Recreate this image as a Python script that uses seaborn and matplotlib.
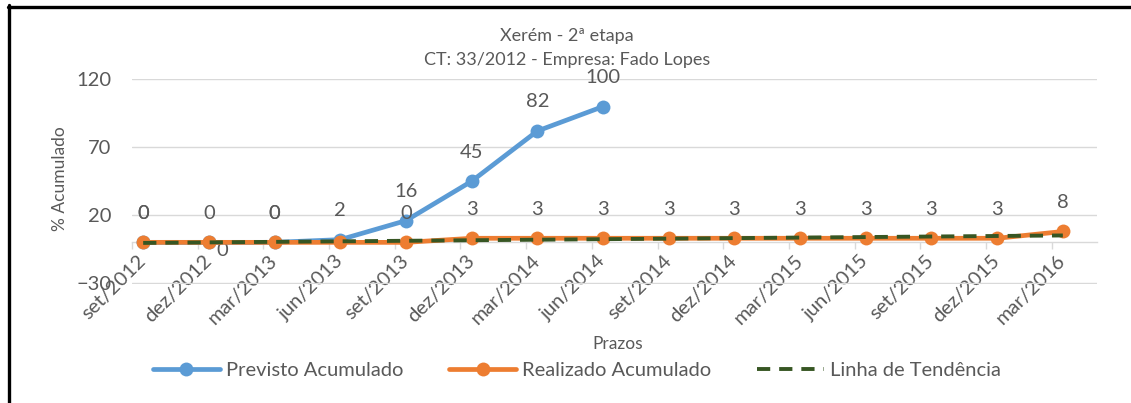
import matplotlib.pyplot as plt
import matplotlib.lines as mlines
import numpy as np
import pandas as pd
import seaborn as sns

# Dados
prazos = ['set/2012', 'dez/2012', 'mar/2013', 'jun/2013', 'set/2013',
          'dez/2013', 'mar/2014', 'jun/2014', 'set/2014', 'dez/2014',
          'mar/2015', 'jun/2015', 'set/2015', 'dez/2015', 'mar/2016']
previsto = [0, 0, 0, 2, 16, 45, 82, 100]
realizado = [0, 0, 0, 0, 0, 3, 3, 3, 3, 3, 3, 3, 3, 3, 8]
y_ticks = [-30, 20, 70, 120]

AZUL = '#5B9BD5'
LARANJA = '#ED7D31'
VERDE = '#375623'
TXT = '#595959'
GRADE = '#D9D9D9'

df_prev = pd.DataFrame({'pos': range(len(previsto)), 'valor': previsto})
df_real = pd.DataFrame({'pos': range(len(realizado)), 'valor': realizado})

sns.set_style('white')
plt.rcParams['font.family'] = ['Lato', 'DejaVu Sans']

W, H = 1131, 403
fig = plt.figure(figsize=(W / 100, H / 100), dpi=100)
ax = fig.add_axes([132 / W, 1 - 283.5 / H, 965 / W, 204.5 / H])

sns.lineplot(data=df_prev, x='pos', y='valor', ax=ax, color=AZUL, lw=3.4,
             marker='o', markersize=10, markeredgewidth=0,
             label='Previsto Acumulado', zorder=3)
sns.lineplot(data=df_real, x='pos', y='valor', ax=ax, color=LARANJA, lw=3.4,
             marker='o', markersize=10, markeredgewidth=0,
             label='Realizado Acumulado', zorder=4)
# linha de tendência linear do realizado
sns.regplot(data=df_real, x='pos', y='valor', ax=ax, scatter=False, ci=None,
            truncate=True, label='Linha de Tendência',
            line_kws=dict(color=VERDE, lw=2.8, ls=(0, (3.4, 2.3)), zorder=5))

# rótulos de dados
FS = 14.5
for i, v in enumerate(previsto):
    ax.annotate(f'{v}', (i, v), xytext=(0, 21), textcoords='offset points',
                ha='center', va='center', fontsize=FS, color=TXT)
for i, v in enumerate(realizado):
    if i == 3:
        continue
    off = (10, -6) if i == 1 else (0, 21)
    ax.annotate(f'{v}', (i, v), xytext=off, textcoords='offset points',
                ha='center', va='center', fontsize=FS, color=TXT)

ax.set_xlim(-0.17, 14.52)
ax.set_ylim(-30.3, 120.3)
ax.set_yticks(y_ticks)
ax.yaxis.grid(True, color=GRADE, lw=1)
ax.xaxis.grid(False)
for s in ['left', 'right', 'top']:
    ax.spines[s].set_visible(False)
ax.spines['bottom'].set_position(('data', 0))
ax.spines['bottom'].set_color(GRADE)
ax.spines['bottom'].set_linewidth(1)

ax.set_xticks(range(len(prazos)))
ax.set_xticklabels(prazos, rotation=45, ha='right', va='center',
                   rotation_mode='anchor')
ax.set_xticks(np.arange(len(prazos)) - 0.17, minor=True)
ax.tick_params(axis='x', which='major', length=0, pad=11, labelsize=FS,
               labelcolor=TXT)
ax.tick_params(axis='x', which='minor', length=5, width=1, color=GRADE,
               direction='out', bottom=True)
ax.tick_params(axis='y', length=0, pad=15, labelsize=FS, labelcolor=TXT)

ax.set_xlabel('Prazos', fontsize=12.5, color=TXT)
ax.set_ylabel('% Acumulado', fontsize=12.5, color=TXT)
ax.xaxis.label.set_va('center')
ax.yaxis.label.set_va('center')
ax.xaxis.set_label_coords((618 - 132) / 965, (283 - 343) / 204)
ax.yaxis.set_label_coords((60 - 132) / 965, (283 - 178) / 204)

fig.text(567 / W, 1 - 36 / H, 'Xerém - 2ª etapa', ha='center', va='center',
         fontsize=13, color=TXT)
fig.text(567 / W, 1 - 60 / H, 'CT: 33/2012 - Empresa: Fado Lopes',
         ha='center', va='center', fontsize=13, color=TXT)

handles, labels = ax.get_legend_handles_labels()
if ax.get_legend() is not None:
    ax.get_legend().remove()
fig.legend(handles, labels, loc='center', bbox_to_anchor=(577 / W, 1 - 370 / H),
           ncol=3, frameon=False, fontsize=FS, labelcolor=TXT,
           handlelength=3.3, handletextpad=0.3, columnspacing=2.3)

# moldura
fig.add_artist(mlines.Line2D([9 / W, 9 / W], [0, 1 - 5 / H],
                             transform=fig.transFigure, color='black', lw=2.4))
fig.add_artist(mlines.Line2D([7.5 / W, 1], [1 - 6.7 / H, 1 - 6.7 / H],
                             transform=fig.transFigure, color='black', lw=2.4))

fig.savefig('out.png', dpi=100)
